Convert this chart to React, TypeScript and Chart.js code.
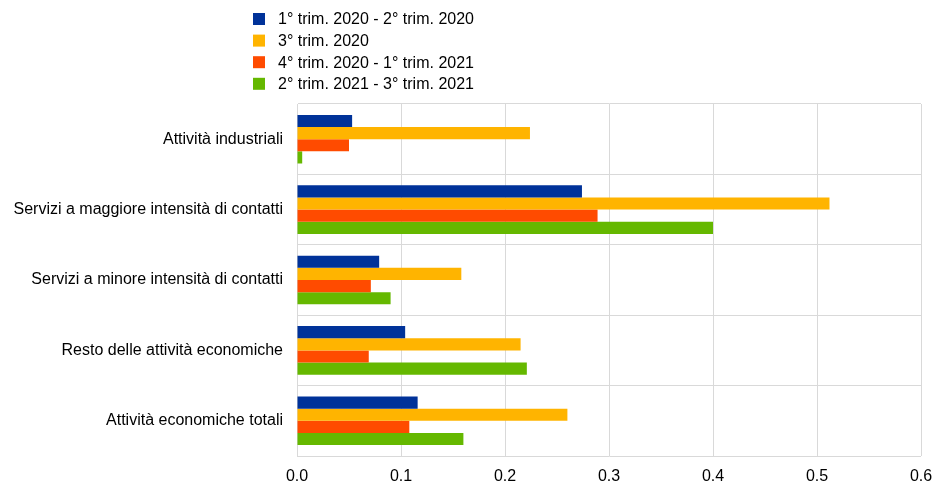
import React, { useEffect, useRef } from "react";
import { Chart, registerables } from "chart.js";

Chart.register(...registerables);

const categories = [
  "Attività industriali",
  "Servizi a maggiore intensità di contatti",
  "Servizi a minore intensità di contatti",
  "Resto delle attività economiche",
  "Attività economiche totali",
];

const seriesNames = [
  "1° trim. 2020 - 2° trim. 2020",
  "3° trim. 2020",
  "4° trim. 2020 - 1° trim. 2021",
  "2° trim. 2021 - 3° trim. 2021",
];

const s1 = [0.053, 0.274, 0.079, 0.104, 0.116];
const s2 = [0.224, 0.512, 0.158, 0.215, 0.26];
const s3 = [0.05, 0.289, 0.071, 0.069, 0.108];
const s4 = [0.005, 0.4, 0.09, 0.221, 0.16];

const colors = ["#003299", "#FFB400", "#FF4B00", "#65B800"];

const xTicks = [0, 0.1, 0.2, 0.3, 0.4, 0.5, 0.6];

const FONT = "Liberation Sans, Arial, sans-serif";

const legendPlugin = {
  id: "customLegend",
  afterDraw(chart: any) {
    const ctx = chart.ctx;
    ctx.save();
    ctx.font = `16px ${FONT}`;
    ctx.textBaseline = "middle";
    ctx.textAlign = "left";
    chart.data.datasets.forEach((ds: any, i: number) => {
      const y = 19 + i * 21.6;
      ctx.fillStyle = ds.backgroundColor;
      ctx.fillRect(253, y - 6, 12, 12);
      ctx.fillStyle = "#000";
      ctx.fillText(ds.label, 278, y + 1);
    });
    ctx.restore();
  },
};

export default function App() {
  const ref = useRef<HTMLCanvasElement>(null);
  useEffect(() => {
    if (!ref.current) return;
    const data = [s1, s2, s3, s4];
    const chart = new Chart(ref.current, {
      type: "bar",
      data: {
        labels: categories,
        datasets: seriesNames.map((n, i) => ({
          label: n,
          data: data[i],
          backgroundColor: colors[i],
          borderWidth: 0,
          categoryPercentage: 0.69,
          barPercentage: 1,
        })),
      },
      options: {
        indexAxis: "y",
        animation: false,
        responsive: false,
        maintainAspectRatio: false,
        layout: { padding: { top: 104, right: 13, left: 0, bottom: 0 } },
        plugins: { legend: { display: false }, tooltip: { enabled: false } },
        scales: {
          x: {
            min: 0,
            max: 0.6,
            afterBuildTicks: (scale: any) => {
              scale.ticks = xTicks.map((v) => ({ value: v }));
            },
            ticks: {
              color: "#000",
              font: { family: FONT, size: 16 },
              padding: 11,
              maxRotation: 0,
              callback: (v: any) => Number(v).toFixed(1),
            },
            grid: { color: "#d9d9d9", drawTicks: false, lineWidth: 1 },
            border: { display: false },
            afterFit: (scale: any) => {
              scale.height = 26;
              scale.paddingLeft = 0;
              scale.paddingRight = 0;
            },
          },
          y: {
            ticks: {
              color: "#000",
              font: { family: FONT, size: 16 },
              padding: 14,
            },
            grid: { color: "#d9d9d9", drawTicks: false, offset: true, lineWidth: 1 },
            border: { display: true, color: "#d9d9d9" },
            afterFit: (scale: any) => {
              scale.width = 297;
            },
          },
        },
      },
      plugins: [legendPlugin],
    });
    return () => chart.destroy();
  }, []);
  return (
    <div style={{ position: "absolute", left: 0, top: 0, width: 934, height: 482, background: "#fff" }}>
      <canvas ref={ref} width={934} height={482} style={{ width: 934, height: 482 }} />
    </div>
  );
}
